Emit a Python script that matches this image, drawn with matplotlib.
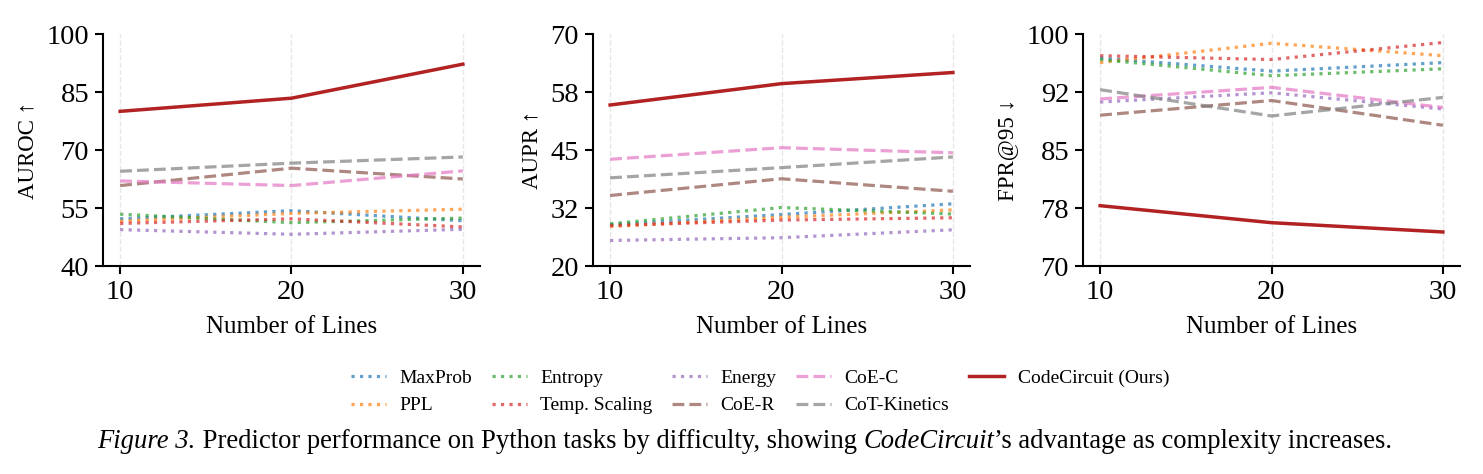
import numpy as np
import matplotlib
matplotlib.use("Agg")
import matplotlib.pyplot as plt

plt.rcParams['font.family'] = ['Liberation Serif', 'DejaVu Serif']

# ---------------- data ----------------
num_lines = [10, 20, 30]

methods = ["MaxProb", "PPL", "Entropy", "Temp. Scaling", "Energy",
           "CoE-R", "CoE-C", "CoT-Kinetics", "CodeCircuit (Ours)"]

auroc_maxprob = [52.2, 54.3, 51.7]
auroc_ppl = [51.6, 53.6, 54.7]
auroc_entropy = [53.4, 51.2, 52.4]
auroc_temp = [51.0, 52.2, 50.1]
auroc_energy = [49.4, 48.2, 49.5]
auroc_coe_r = [60.8, 65.3, 62.5]
auroc_coe_c = [62.0, 60.8, 64.6]
auroc_cot = [64.5, 66.6, 68.2]
auroc_cc = [80.0, 83.4, 92.2]

aupr_maxprob = [28.9, 31.1, 33.4]
aupr_ppl = [28.5, 30.5, 32.1]
aupr_entropy = [29.1, 32.6, 31.2]
aupr_temp = [28.7, 29.9, 30.4]
aupr_energy = [25.5, 26.1, 27.8]
aupr_coe_r = [35.2, 38.8, 36.1]
aupr_coe_c = [43.0, 45.5, 44.4]
aupr_cot = [39.0, 41.2, 43.5]
aupr_cc = [54.7, 59.3, 61.7]

fpr_maxprob = [96.9, 95.2, 96.3]
fpr_ppl = [96.3, 98.8, 97.2]
fpr_entropy = [96.7, 94.6, 95.5]
fpr_temp = [97.2, 96.7, 98.9]
fpr_energy = [91.2, 92.4, 90.3]
fpr_coe_r = [89.5, 91.4, 88.2]
fpr_coe_c = [91.6, 93.1, 90.5]
fpr_cot = [92.8, 89.4, 91.8]
fpr_cc = [77.8, 75.6, 74.4]

ylabels = ["AUROC ↑", "AUPR ↑", "FPR@95 ↓"]
ylims = [(40, 100), (20, 70), (70, 100)]
ytick_labels = [["40", "55", "70", "85", "100"],
                ["20", "32", "45", "58", "70"],
                ["70", "78", "85", "92", "100"]]
xlabel = "Number of Lines"

panels = [
    [auroc_maxprob, auroc_ppl, auroc_entropy, auroc_temp, auroc_energy,
     auroc_coe_r, auroc_coe_c, auroc_cot, auroc_cc],
    [aupr_maxprob, aupr_ppl, aupr_entropy, aupr_temp, aupr_energy,
     aupr_coe_r, aupr_coe_c, aupr_cot, aupr_cc],
    [fpr_maxprob, fpr_ppl, fpr_entropy, fpr_temp, fpr_energy,
     fpr_coe_r, fpr_coe_c, fpr_cot, fpr_cc],
]

# ---------------- styles ----------------
styles = {
    "MaxProb": dict(color="#1f77b4", ls=":", lw=2.3, alpha=0.7),
    "PPL": dict(color="#ff7f0e", ls=":", lw=2.3, alpha=0.7),
    "Entropy": dict(color="#2ca02c", ls=":", lw=2.3, alpha=0.7),
    "Temp. Scaling": dict(color="#d62728", ls=":", lw=2.3, alpha=0.7),
    "Energy": dict(color="#9467bd", ls=":", lw=2.3, alpha=0.7),
    "CoE-R": dict(color="#8c564b", ls="--", lw=2.3, alpha=0.7),
    "CoE-C": dict(color="#e377c2", ls="--", lw=2.3, alpha=0.7),
    "CoT-Kinetics": dict(color="#7f7f7f", ls="--", lw=2.3, alpha=0.7),
    "CodeCircuit (Ours)": dict(color="#B22222", ls="-", lw=2.5, alpha=1.0),
}

W, H = 1483, 474
fig = plt.figure(figsize=(W / 100, H / 100), dpi=100)

ax_w = 377 / W
ax_h = 232 / H
bottom = 1 - 266 / H
lefts = [103 / W, 593 / W, 1083 / W]

handles = []
for i, (left, series) in enumerate(zip(lefts, panels)):
    ax = fig.add_axes([left, bottom, ax_w, ax_h])
    ax.grid(axis='x', color='#e6e6e6', ls='--', lw=1.0)
    ax.set_axisbelow(True)
    hs = []
    for name, vals in zip(methods, series):
        st = styles[name]
        h, = ax.plot(num_lines, vals, color=st["color"], ls=st["ls"],
                     lw=st["lw"], alpha=st["alpha"], label=name,
                     zorder=3 if name.startswith("CodeCircuit") else 2)
        hs.append(h)
    if i == 0:
        handles = hs
    ax.set_xlim(9, 31)
    ax.set_ylim(*ylims[i])
    ax.set_xticks(num_lines)
    ax.set_xticklabels([str(v) for v in num_lines])
    ax.set_yticks(np.linspace(ylims[i][0], ylims[i][1], 5))
    ax.set_yticklabels(ytick_labels[i])
    ax.tick_params(axis='both', labelsize=20.5, length=6, width=1.5,
                   direction='out', pad=4)
    for s in ["top", "right"]:
        ax.spines[s].set_visible(False)
    for s in ["left", "bottom"]:
        ax.spines[s].set_linewidth(1.5)
    ax.set_xlabel(xlabel, fontsize=18, labelpad=8)
    ax.set_ylabel(ylabels[i], fontsize=16.5, labelpad=6)

fig.legend(handles=handles, labels=methods, loc='center',
           bbox_to_anchor=(760 / W, 1 - 392 / H), ncol=5, frameon=False,
           fontsize=14, handlelength=1.8, handletextpad=0.7,
           columnspacing=1.0, labelspacing=0.5)

# ---------------- caption with mixed styles ----------------
cap_pieces = [("Figure 3.", "italic"),
              (" Predictor performance on Python tasks by difficulty, showing ", "normal"),
              ("CodeCircuit", "italic"),
              ("\u2019s advantage as complexity increases.", "normal")]
cap_size = 19.2
cap_y = 1 - 441 / H
cap_cx = 745 / W

fig.canvas.draw()
renderer = fig.canvas.get_renderer()


def text_width(s, style):
    t = fig.text(0, 0, "|" + s + "|", fontsize=cap_size, style=style)
    w = t.get_window_extent(renderer).width
    t.remove()
    t2 = fig.text(0, 0, "||", fontsize=cap_size, style=style)
    w2 = t2.get_window_extent(renderer).width
    t2.remove()
    return w - w2


widths = [text_width(s, st) for s, st in cap_pieces]
total = sum(widths)
x0 = cap_cx * W - total / 2
for (s, st), w in zip(cap_pieces, widths):
    fig.text(x0 / W, cap_y, s, fontsize=cap_size, style=st,
             ha='left', va='center')
    x0 += w

fig.savefig("out.png", dpi=100)
